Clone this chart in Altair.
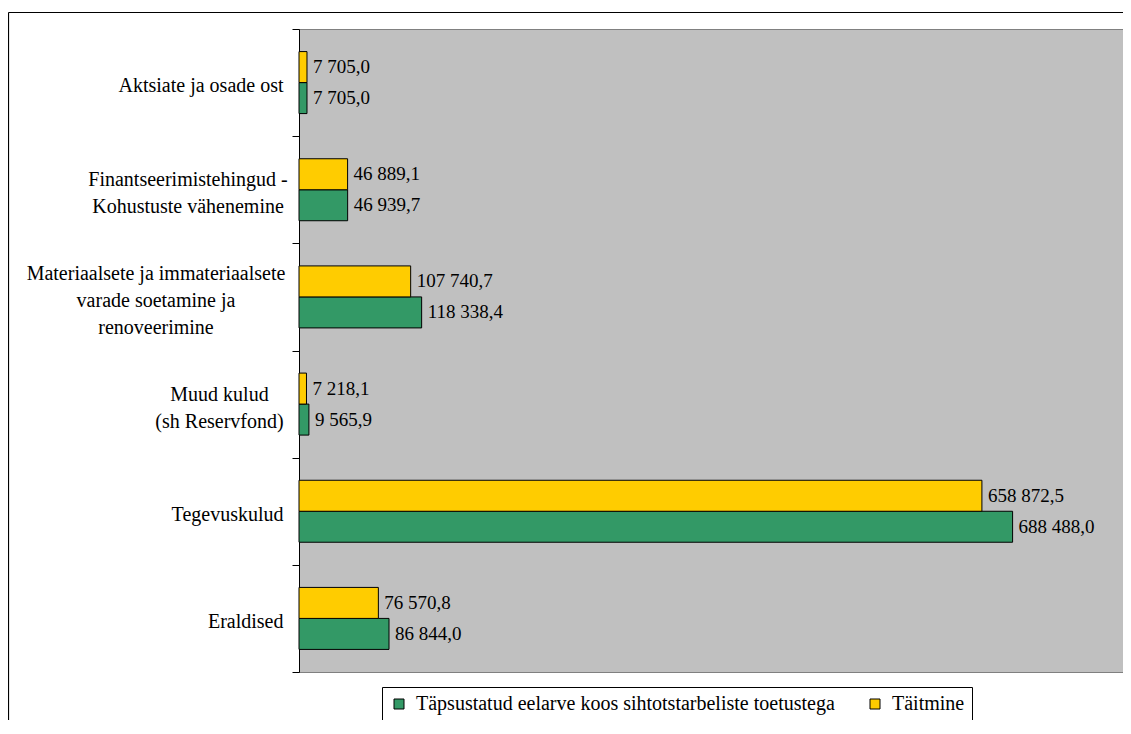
import altair as alt
import pandas as pd

categories = [
    "Aktsiate ja osade ost",
    "Finantseerimistehingud -|Kohustuste vähenemine",
    "Materiaalsete ja immateriaalsete|varade soetamine ja|renoveerimine",
    "Muud kulud|(sh Reservfond)",
    "Tegevuskulud",
    "Eraldised",
]
series_names = ["Täpsustatud eelarve koos sihtotstarbeliste toetustega", "Täitmine"]
budget = [7705.0, 46939.7, 118338.4, 9565.9, 688488.0, 86844.0]
actual = [7705.0, 46889.1, 107740.7, 7218.1, 658872.5, 76570.8]
colors = ["#339966", "#FFCC00"]
x_max = 795000


def fmt(v):
    s = f"{v:,.1f}"
    return s.replace(",", " ").replace(".", ",")


rows = []
for c, b, a in zip(categories, budget, actual):
    rows.append({"category": c, "series": series_names[0], "value": b, "label": fmt(b)})
    rows.append({"category": c, "series": series_names[1], "value": a, "label": fmt(a)})
df = pd.DataFrame(rows)

FONT = "Liberation Serif"
offset_order = [series_names[1], series_names[0]]

y_axis = alt.Axis(
    title=None,
    grid=False,
    domainColor="black",
    tickColor="black",
    tickSize=7,
    tickBand="extent",
    labelFont=FONT,
    labelFontSize=20,
    labelColor="black",
    labelLimit=400,
    labelPadding=9,
    labelOffset=3,
    labelExpr="indexof(datum.label, '|') >= 0 ? '' : datum.label",
)

y_enc = alt.Y("category:N", sort=categories,
              scale=alt.Scale(paddingInner=0, paddingOuter=0), axis=y_axis)
yoff_enc = alt.YOffset("series:N", sort=offset_order,
                       scale=alt.Scale(paddingInner=0, paddingOuter=0.7285))
x_enc = alt.X("value:Q", scale=alt.Scale(domain=[0, x_max], nice=False), axis=None)

base = alt.Chart(df)

bars = base.mark_bar(stroke="black", strokeWidth=1).encode(
    x=x_enc,
    y=y_enc,
    yOffset=yoff_enc,
    color=alt.Color(
        "series:N",
        scale=alt.Scale(domain=series_names, range=colors),
        legend=alt.Legend(
            title=None,
            orient="none",
            legendX=83,
            legendY=658,
            direction="horizontal",
            fillColor="white",
            strokeColor="black",
            padding=7,
            symbolType="square",
            symbolSize=100,
            symbolStrokeColor="black",
            symbolStrokeWidth=1,
            labelFont=FONT,
            labelFontSize=20,
            labelColor="black",
            labelLimit=600,
            labelOffset=7,
            columnPadding=30,
        ),
    ),
)

labels = base.mark_text(align="left", baseline="middle", dx=6,
                        font=FONT, fontSize=19, color="black").encode(
    x=x_enc,
    y=y_enc,
    yOffset=yoff_enc,
    text="label:N",
)

# multi-line category labels, lines centred on each other
multi = [c for c in categories if "|" in c]
centre_x = {multi[0]: -111, multi[1]: -143, multi[2]: -79.5}
cat_layers = []
for c in multi:
    n = c.count("|") + 1
    lay = base.transform_filter(
        alt.FieldEqualPredicate(field="category", equal=c)
    ).transform_filter(
        alt.FieldEqualPredicate(field="series", equal=series_names[0])
    ).transform_calculate(
        lines="split(datum.category, '|')"
    ).mark_text(
        align="center", baseline="middle", font=FONT, fontSize=20,
        lineHeight=27, color="black", dy=4 - (n - 1) * 27 / 2,
    ).encode(
        x=alt.value(centre_x[c]),
        y=alt.Y("category:N", sort=categories),
        text="lines:N",
    )
    cat_layers.append(lay)

frame_df = pd.DataFrame({"k": [0]})
top_rule = alt.Chart(frame_df).mark_rule(color="black", strokeWidth=1.2).encode(
    x=alt.value(-290.5), x2=alt.value(840), y=alt.value(-16.5)
)
left_rule = alt.Chart(frame_df).mark_rule(color="black", strokeWidth=1.2).encode(
    x=alt.value(-290.5), y=alt.value(-16.5), y2=alt.value(720)
)

chart = alt.layer(bars, labels, *cat_layers, top_rule, left_rule).properties(
    width=824,
    height=643,
    autosize=alt.AutoSizeParams(type="none"),
    padding={"left": 291, "top": 21, "right": 0, "bottom": 48},
    background="white",
).configure_view(
    fill="#C0C0C0", stroke="#808080", strokeWidth=1
)

chart.save("out.html", embed_options={"renderer": "svg", "actions": False})
